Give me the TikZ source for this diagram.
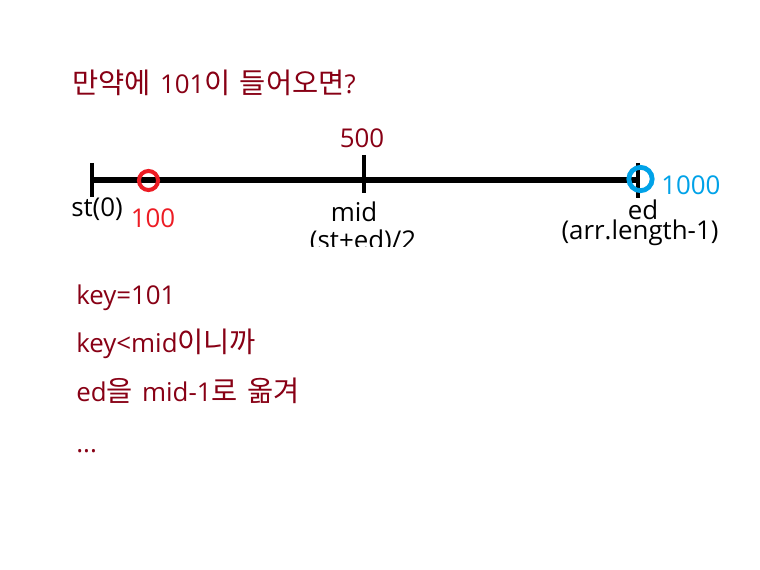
\documentclass[tikz,border=0pt]{standalone}
\usepackage{fontspec}
\setmainfont{Open Sans}
\newfontfamily\krf[Scale=1.1]{Noto Sans CJK KR}
\newcommand\kr[1]{{\krf #1}}
\newcommand\widesp{\spaceskip=0.36em\relax}
\definecolor{dred}{RGB}{136,0,21}
\definecolor{pred}{RGB}{237,28,36}
\definecolor{pblue}{RGB}{0,162,232}
\begin{document}
\begin{tikzpicture}[x=0.75pt,y=-0.75pt,
  txt/.style={inner sep=0pt,font=\fontsize{19.4pt}{23pt}\selectfont,execute at begin node=\widesp},
  lbl/.style={txt,text=black},
  rtxt/.style={txt,text=dred,anchor=base west},
  tick/.style={line width=3.6pt,line cap=butt}]
\useasboundingbox (0,0) rectangle (760,570);
\fill[white] (0,0) rectangle (760,570);
% title
\node[rtxt] (title) at (72,94) {\kr{만약에} 101\kr{이} \kr{들어오면}?};
% number line
\coordinate (st) at (91,180);
\coordinate (ed) at (638,180);
\draw[line width=3.8pt] (st) -- (ed);
\draw[tick] (92,163) -- (92,197);
\draw[tick] (364,155) -- (364,193);
\draw[tick] (638,163) -- (638,198);
\node[draw=pred,line width=3pt,circle,minimum size=14.3pt,inner sep=0pt] (c100) at (148.5,180.5) {};
\node[draw=pblue,line width=3.6pt,circle,minimum size=17.5pt,inner sep=0pt] (c1000) at (640.5,179) {};
% labels
\node[txt,text=dred,anchor=base] (l500) at (362,148) {500};
\node[lbl,anchor=base west] (lst) at (71,217) {st(0)};
\node[txt,text=pred,anchor=base] (l100) at (153,228) {100};
\node[txt,text=pblue,anchor=base west] (l1000) at (661,195) {1000};
\node[lbl,anchor=base] (lmid) at (354,222) {mid};
\begin{scope}
\clip (280,200) rectangle (460,247);
\node[lbl,anchor=base] (lmid2) at (363,250) {(st+ed)/2};
\end{scope}
\node[lbl,anchor=base] (led) at (643,220) {ed};
\node[lbl,anchor=base] (led2) at (640,240) {(arr.length-1)};
% explanation
\node[rtxt] (k1) at (76,304) {key=101};
\node[rtxt] (k2) at (76,352) {key<mid\kr{이니까}};
\node[rtxt] (k3) at (76,401) {ed\kr{을} mid-1\kr{로} \kr{옮겨}};
\node[rtxt] (k4) at (76,452) {...};
\end{tikzpicture}
\end{document}
